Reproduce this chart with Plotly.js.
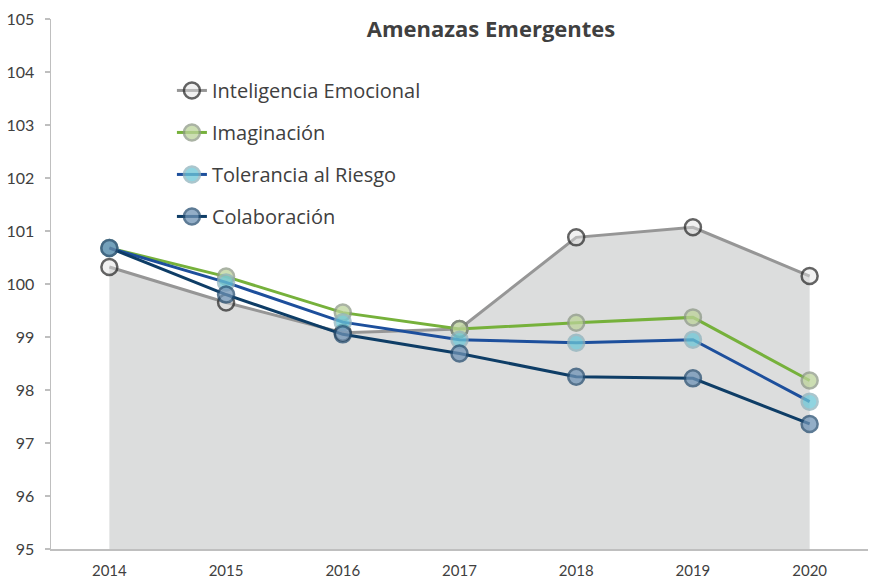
<!DOCTYPE html>
<html>
<head>
<meta charset="utf-8">
<script src="https://cdn.plot.ly/plotly-3.0.1.min.js"></script>
<style>html,body{margin:0;padding:0;background:#fff;}#chart{width:873px;height:580px;}</style>
</head>
<body>
<div id="chart"></div>
<script>
const years = ["2014", "2015", "2016", "2017", "2018", "2019", "2020"];
const inteligencia = [100.32, 99.65, 99.08, 99.15, 100.88, 101.07, 100.15];
const imaginacion = [100.68, 100.14, 99.46, 99.15, 99.27, 99.37, 98.18];
const tolerancia = [100.68, 100.03, 99.28, 98.95, 98.89, 98.95, 97.78];
const colaboracion = [100.68, 99.8, 99.05, 98.69, 98.25, 98.22, 97.36];
const seriesNames = ["Inteligencia Emocional", "Imaginación", "Tolerancia al Riesgo", "Colaboración"];

const font = "Lato, 'Open Sans', sans-serif";
const legendFont = "'Open Sans', sans-serif";

function trace(name, y, lineColor, fillColor, borderColor) {
  return {
    type: "scatter", mode: "lines+markers", name: name, x: years, y: y,
    legendgroup: name,
    line: {color: lineColor, width: 3},
    marker: {symbol: "circle", size: 16, color: fillColor, opacity: 0.75,
             line: {color: borderColor, width: 2.5}}
  };
}

const data = [
  {type: "scatter", mode: "none", x: years, y: inteligencia, fill: "tozeroy",
   fillcolor: "#dcdddd", showlegend: false, hoverinfo: "skip"},
  trace(seriesNames[0], inteligencia, "#969696", "rgba(225,225,225,0.6)", "#2f2f2f"),
  trace(seriesNames[1], imaginacion, "#76b13b", "#bcd39a", "#8e9a86"),
  trace(seriesNames[2], tolerancia, "#1d4f9c", "#6cc6d6", "#8fb3bd"),
  trace(seriesNames[3], colaboracion, "#0e3d66", "#6f93b5", "#284f72")
];

const layout = {
  width: 873, height: 580,
  margin: {l: 51, r: 5, t: 19, b: 31},
  paper_bgcolor: "#ffffff", plot_bgcolor: "#ffffff",
  showlegend: true,
  title: {text: "<b>Amenazas Emergentes</b>", x: 0.5386, xref: "paper", xanchor: "center",
          y: 0.95, yref: "container", yanchor: "middle",
          font: {family: legendFont, size: 22, color: "#404040"}},
  legend: {x: 0.148, y: 0.902, xanchor: "left", yanchor: "top",
           bgcolor: "rgba(0,0,0,0)", traceorder: "grouped", tracegroupgap: 13,
           font: {family: legendFont, size: 20, color: "#404040"}, itemwidth: 30},
  xaxis: {type: "category", range: [-0.5, 6.5], showgrid: false, zeroline: false,
          showline: true, linecolor: "#bfbfbf", linewidth: 1.5,
          ticks: "outside", ticklen: 7, tickcolor: "rgba(0,0,0,0)",
          tickfont: {family: font, size: 15, color: "#404040"}, fixedrange: true},
  yaxis: {range: [95, 105], dtick: 1, showgrid: false, zeroline: false,
          showline: true, linecolor: "#bfbfbf", linewidth: 1.5, ticks: "outside",
          ticklen: 5, tickcolor: "#bfbfbf", tickwidth: 1.5, ticklabelstandoff: 7,
          tickfont: {family: font, size: 16, color: "#404040"}, fixedrange: true}
};

Plotly.newPlot("chart", data, layout, {displayModeBar: false, staticPlot: true});
</script>
</body>
</html>
